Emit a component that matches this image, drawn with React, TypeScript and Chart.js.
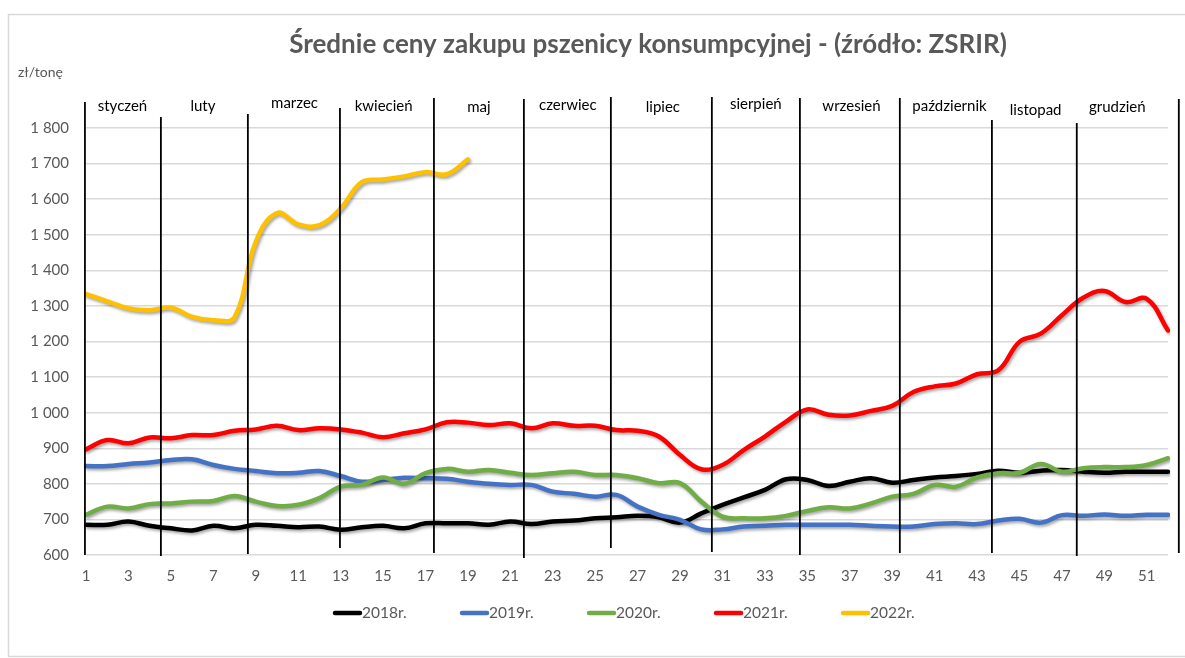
import { useEffect, useRef } from 'react';
import { Chart, registerables } from 'chart.js';

Chart.register(...registerables);

const TITLE = 'Średnie ceny zakupu pszenicy konsumpcyjnej - (źródło: ZSRIR)';
const UNIT = 'zł/tonę';

const WEEKS = [
  '1', '2', '3', '4', '5', '6', '7', '8', '9', '10', '11', '12', '13',
  '14', '15', '16', '17', '18', '19', '20', '21', '22', '23', '24', '25', '26',
  '27', '28', '29', '30', '31', '32', '33', '34', '35', '36', '37', '38', '39',
  '40', '41', '42', '43', '44', '45', '46', '47', '48', '49', '50', '51', '52',
];

const Y2018 = [
  685, 685, 694, 682, 675, 669, 682, 675, 685, 682, 678, 680, 671,
  678, 682, 675, 689, 689, 689, 685, 694, 687, 694, 697, 703, 706,
  710, 706, 691, 717, 741, 762, 783, 813, 811, 794, 806, 816, 803,
  811, 818, 822, 828, 837, 831, 837, 839, 834, 831, 834, 834, 834,
];
const Y2019 = [
  850, 850, 856, 860, 867, 869, 853, 842, 836, 830, 831, 836, 822,
  806, 811, 817, 816, 814, 806, 800, 797, 797, 778, 772, 764, 769,
  736, 713, 699, 672, 672, 680, 682, 685, 685, 685, 685, 682, 680,
  680, 687, 689, 687, 697, 702, 691, 712, 710, 714, 710, 713, 713,
];
const Y2020 = [
  713, 736, 731, 743, 745, 750, 752, 766, 750, 738, 741, 760, 792,
  797, 818, 800, 830, 842, 834, 839, 831, 825, 830, 834, 825, 825,
  816, 802, 802, 750, 708, 703, 703, 710, 724, 734, 731, 745, 764,
  772, 797, 792, 818, 830, 831, 856, 834, 844, 847, 847, 853, 872,
];
const Y2021 = [
  897, 923, 914, 930, 928, 937, 937, 949, 953, 963, 951, 956, 953,
  944, 931, 942, 953, 973, 972, 965, 970, 956, 970, 963, 963, 951,
  949, 933, 881, 841, 853, 895, 933, 975, 1009, 994, 992, 1005, 1019,
  1058, 1074, 1082, 1108, 1119, 1199, 1222, 1274, 1323, 1342, 1311, 1320, 1231,
];
const Y2022 = [
  1333, 1313, 1293, 1288, 1295, 1269, 1260, 1268, 1480, 1561, 1529, 1527, 1574,
  1648, 1655, 1664, 1676, 1670, 1712, null, null, null, null, null, null, null,
  null, null, null, null, null, null, null, null, null, null, null, null, null,
  null, null, null, null, null, null, null, null, null, null, null, null, null,
];

const SERIES_LABELS = ['2018r.', '2019r.', '2020r.', '2021r.', '2022r.'];
const SERIES_COLORS = ['#000000', '#4472C4', '#70AD47', '#FF0000', '#FFC000'];

const Y_MIN = 600;
const Y_MAX = 1800;
const Y_STEP = 100;

const MONTHS = [
  'styczeń', 'luty', 'marzec', 'kwiecień', 'maj', 'czerwiec',
  'lipiec', 'sierpień', 'wrzesień', 'październik', 'listopad', 'grudzień',
];
// month boundaries and label centres, in week units
const MONTH_BOUNDS = [0.95, 4.53, 8.63, 12.97, 17.4, 21.64, 25.74, 30.5, 34.65, 39.36, 43.7, 47.7, 52.51];
const MONTH_LABEL_AT = [2.72, 6.51, 10.83, 15.03, 19.52, 23.71, 28.19, 32.57, 37.08, 41.7, 45.76, 49.61];

// styling (pixel) for the hand drawn overlay
const LINE_TOP = [102, 117, 114, 108, 98, 99, 97, 97, 98, 98, 120, 123, 99];
const LINE_BOTTOM = [555, 556, 554, 548, 553, 558, 548, 552, 555, 553, 553, 556, 553];
const LABEL_Y = [107, 107, 104, 107, 108, 106, 108, 105, 107, 107, 111, 108];

const W = 1185;
const H = 658;
const FONT = 'Lato, Carlito, Calibri, "Open Sans", sans-serif';
const GRAY = '#595959';

function fmt(v: number): string {
  if (v >= 1000) {
    const t = Math.floor(v / 1000);
    const r = String(v % 1000).padStart(3, '0');
    return t + ' ' + r;
  }
  return String(v);
}

const shadowPlugin = {
  id: 'shadow',
  beforeDatasetDraw(chart: any) {
    const ctx = chart.ctx;
    ctx.save();
    ctx.shadowColor = 'rgba(0,0,0,0.35)';
    ctx.shadowBlur = 3;
    ctx.shadowOffsetX = 1.5;
    ctx.shadowOffsetY = 2;
  },
  afterDatasetDraw(chart: any) {
    chart.ctx.restore();
  },
};

const decorPlugin = {
  id: 'decor',
  beforeDraw(chart: any) {
    const ctx = chart.ctx;
    ctx.save();
    ctx.fillStyle = '#ffffff';
    ctx.fillRect(0, 0, W, H);
    ctx.strokeStyle = '#d9d9d9';
    ctx.lineWidth = 1.5;
    ctx.strokeRect(8.5, 14.5, W + 10, 642);
    ctx.restore();
  },
  afterDatasetsDraw(chart: any) {
    const ctx = chart.ctx;
    const xs = chart.scales.x;
    ctx.save();
    ctx.strokeStyle = '#000000';
    ctx.lineWidth = 1.8;
    MONTH_BOUNDS.forEach((wk, i) => {
      const x = xs.getPixelForValue(wk - 1);
      ctx.beginPath();
      ctx.moveTo(x, LINE_TOP[i]);
      ctx.lineTo(x, LINE_BOTTOM[i]);
      ctx.stroke();
    });
    ctx.restore();
  },
  afterDraw(chart: any) {
    const ctx = chart.ctx;
    const xs = chart.scales.x;
    ctx.save();
    // title
    ctx.fillStyle = GRAY;
    ctx.font = 'bold 26px ' + FONT;
    ctx.textAlign = 'center';
    ctx.textBaseline = 'middle';
    ctx.fillText(TITLE, 648, 45);
    // unit
    ctx.font = '14px ' + FONT;
    ctx.textAlign = 'left';
    ctx.fillText(UNIT, 18, 72);
    // month labels
    ctx.fillStyle = '#000000';
    ctx.font = '15px ' + FONT;
    ctx.textAlign = 'center';
    MONTHS.forEach((m, i) => {
      const x = xs.getPixelForValue(MONTH_LABEL_AT[i] - 1);
      ctx.fillText(m, x, LABEL_Y[i] - 1);
    });
    // legend
    ctx.font = '15.5px ' + FONT;
    ctx.textAlign = 'left';
    chart.data.datasets.forEach((ds: any, i: number) => {
      const x0 = 333 + i * 127;
      const y = 613;
      ctx.strokeStyle = ds.borderColor;
      ctx.lineWidth = 4.5;
      ctx.lineCap = 'round';
      ctx.beginPath();
      ctx.moveTo(x0 + 2, y);
      ctx.lineTo(x0 + 27, y);
      ctx.stroke();
      ctx.fillStyle = GRAY;
      ctx.fillText(ds.label, x0 + 29, y);
    });
    ctx.restore();
  },
};

export default function App() {
  const ref = useRef<HTMLCanvasElement | null>(null);

  useEffect(() => {
    if (!ref.current) return;
    const series = [Y2018, Y2019, Y2020, Y2021, Y2022];
    const chart = new Chart(ref.current, {
      type: 'line',
      data: {
        labels: WEEKS,
        datasets: series.map((data, i) => ({
          label: SERIES_LABELS[i],
          data,
          borderColor: SERIES_COLORS[i],
          backgroundColor: SERIES_COLORS[i],
          borderWidth: 4.5,
          tension: 0.4,
          pointRadius: 0,
          pointHoverRadius: 0,
          fill: false,
          spanGaps: false,
          borderCapStyle: 'round',
          borderJoinStyle: 'round',
          order: series.length - i,
        })),
      },
      options: {
        responsive: false,
        animation: false,
        devicePixelRatio: 1,
        layout: { padding: { left: 0, right: 17, top: 128, bottom: 73 } },
        plugins: {
          legend: { display: false },
          title: { display: false },
          tooltip: { enabled: false },
        },
        scales: {
          x: {
            type: 'category',
            offset: false,
            grid: { display: false, drawTicks: false },
            border: { display: false },
            ticks: {
              autoSkip: false,
              maxRotation: 0,
              padding: 12,
              color: GRAY,
              font: { family: FONT, size: 15 },
              callback: (_v: any, idx: number) => (idx % 2 === 0 ? WEEKS[idx] : ''),
            },
            afterFit: (s: any) => { s.height = 30; },
          },
          y: {
            min: Y_MIN,
            max: Y_MAX,
            ticks: {
              stepSize: Y_STEP,
              padding: 17,
              color: GRAY,
              font: { family: FONT, size: 15 },
              callback: (v: any) => fmt(Number(v)),
            },
            grid: { color: '#d9d9d9', lineWidth: 1.5, drawTicks: false },
            border: { display: false },
            afterFit: (s: any) => { s.width = 86; },
          },
        },
      },
      plugins: [shadowPlugin, decorPlugin],
    });
    return () => chart.destroy();
  }, []);

  return (
    <div style={{ position: 'fixed', left: 0, top: 0, width: W, height: H, background: '#fff' }}>
      <canvas ref={ref} width={W} height={H} style={{ display: 'block', width: W, height: H }} />
    </div>
  );
}
